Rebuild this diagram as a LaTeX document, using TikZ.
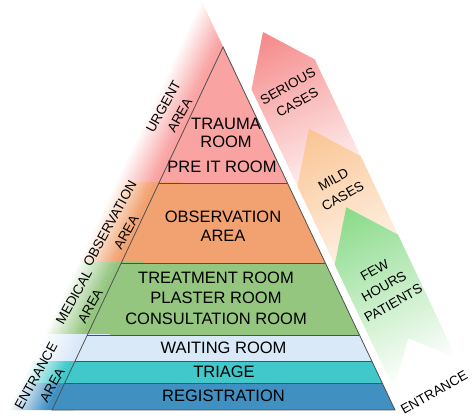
\documentclass[tikz,border=0pt]{standalone}
\usepackage{fontspec}
\setmainfont{Liberation Sans}
\usetikzlibrary{calc}

\definecolor{urgentcol}{RGB}{249,163,163}
\definecolor{obscol}{RGB}{242,162,112}
\definecolor{medcol}{RGB}{148,198,128}
\definecolor{waitcol}{RGB}{218,233,248}
\definecolor{triagecol}{RGB}{64,200,202}
\definecolor{regcol}{RGB}{64,144,194}
\definecolor{seriouscol}{RGB}{246,136,136}
\definecolor{mildcol}{RGB}{250,196,146}
\definecolor{fewcol}{RGB}{136,218,136}
\definecolor{edgecol}{RGB}{80,80,80}

\tikzset{
  room/.style={font=\fontsize{16.5}{18.5}\selectfont, align=center, inner sep=0pt},
  area/.style={font=\fontsize{13.5}{18.5}\selectfont, align=center, inner sep=0pt, rotate=61},
  case/.style={font=\fontsize{13.5}{19}\selectfont, align=center, inner sep=0pt, rotate=4},
  layerline/.style={edgecol, line width=0.8pt},
}

\begin{document}
\begin{tikzpicture}[x=1pt, y=1pt]

\useasboundingbox (0,0) rectangle (474,418);

% corners of the faded triangle and of the inner one
\coordinate (top) at (201,418);
\coordinate (outer) at (8,8);
\coordinate (apex) at (223,371);
\coordinate (bl) at (52,8);
\coordinate (br) at (395,8);

% layers: top, bottom, colour
\foreach \ytop/\ybot/\col in {418/235/urgentcol, 235/155/obscol, 155/83/medcol, 83/57/waitcol, 57/35/triagecol, 35/8/regcol}
{
\begin{scope}
\clip (top) -- (outer) -- (br) -- cycle;
\clip (0,\ybot) rectangle (474,\ytop);
\begin{scope} [transform canvas={shift={(8pt,8pt)}, rotate=-25.2}]
\shade [left color=white, right color=\col] (0,-40) rectangle (34,480);
\fill [\col] (34,-40) rectangle (60,480);
\end{scope}
\clip (apex) -- (bl) -- (br) -- cycle;
\fill [\col] (0,\ybot) rectangle (474,\ytop);
\end{scope}
}

% borders of the layers
\draw [layerline] (apex) -- (bl) -- (br) -- cycle;
\foreach \t in {0.6253, 0.405, 0.2066, 0.135, 0.0744}
  \draw [layerline] ($(bl)!\t!(apex)$) -- ($(br)!\t!(apex)$);

\node [room] (trauma) at (226,285) {TRAUMA\\ROOM};
\node [room] (preit) at (222,251) {PRE IT ROOM};
\node [room] (obsarea) at (223,192) {OBSERVATION\\AREA};
\node [room, font=\fontsize{16.5}{20.5}\selectfont] (medrooms) at (216,120) {TREATMENT ROOM\\PLASTER ROOM\\CONSULTATION ROOM};
\node [room] (waiting) at (223.5,70) {WAITING ROOM};
\node [room] (triage) at (224,46) {TRIAGE};
\node [room] (registration) at (223.5,22) {REGISTRATION};

% area names along the left side
\node [area] (urgent) at (171.5,307) {URGENT\\AREA};
\node [area] (observation) at (118,190) {OBSERVATION\\AREA};
\node [area] (medical) at (82,116.5) {MEDICAL\\AREA};
\node [area] (entrance) at (44,37.5) {ENTRANCE\\AREA};

% arrows along the right side
\begin{scope} [transform canvas={shift={(263pt,386pt)}, rotate=25.4}]

\shade [top color=seriouscol, bottom color=white] (0,0) -- (35,-47) -- (35,-183) -- (0,-145) -- (-35,-183) -- (-35,-47) -- cycle;
\node [case] (serious) at (0,-69) {SERIOUS\\CASES};

\begin{scope} [shift={(0,-107)}]
\shade [top color=mildcol, bottom color=white] (0,0) -- (35,-47) -- (35,-183) -- (0,-145) -- (-35,-183) -- (-35,-47) -- cycle;
\node [case] (mild) at (1,-66) {MILD\\CASES};
\end{scope}

\begin{scope} [shift={(0,-194)}]
\shade [top color=fewcol, bottom color=white] (0,0) -- (35,-47) -- (35,-184) -- (0,-145) -- (-35,-184) -- (-35,-47) -- cycle;
\node [case] (few) at (0,-88) {FEW\\HOURS\\PATIENTS};
\end{scope}

\node [case] (door) at (0,-399) {ENTRANCE};

\end{scope}

\end{tikzpicture}
\end{document}
